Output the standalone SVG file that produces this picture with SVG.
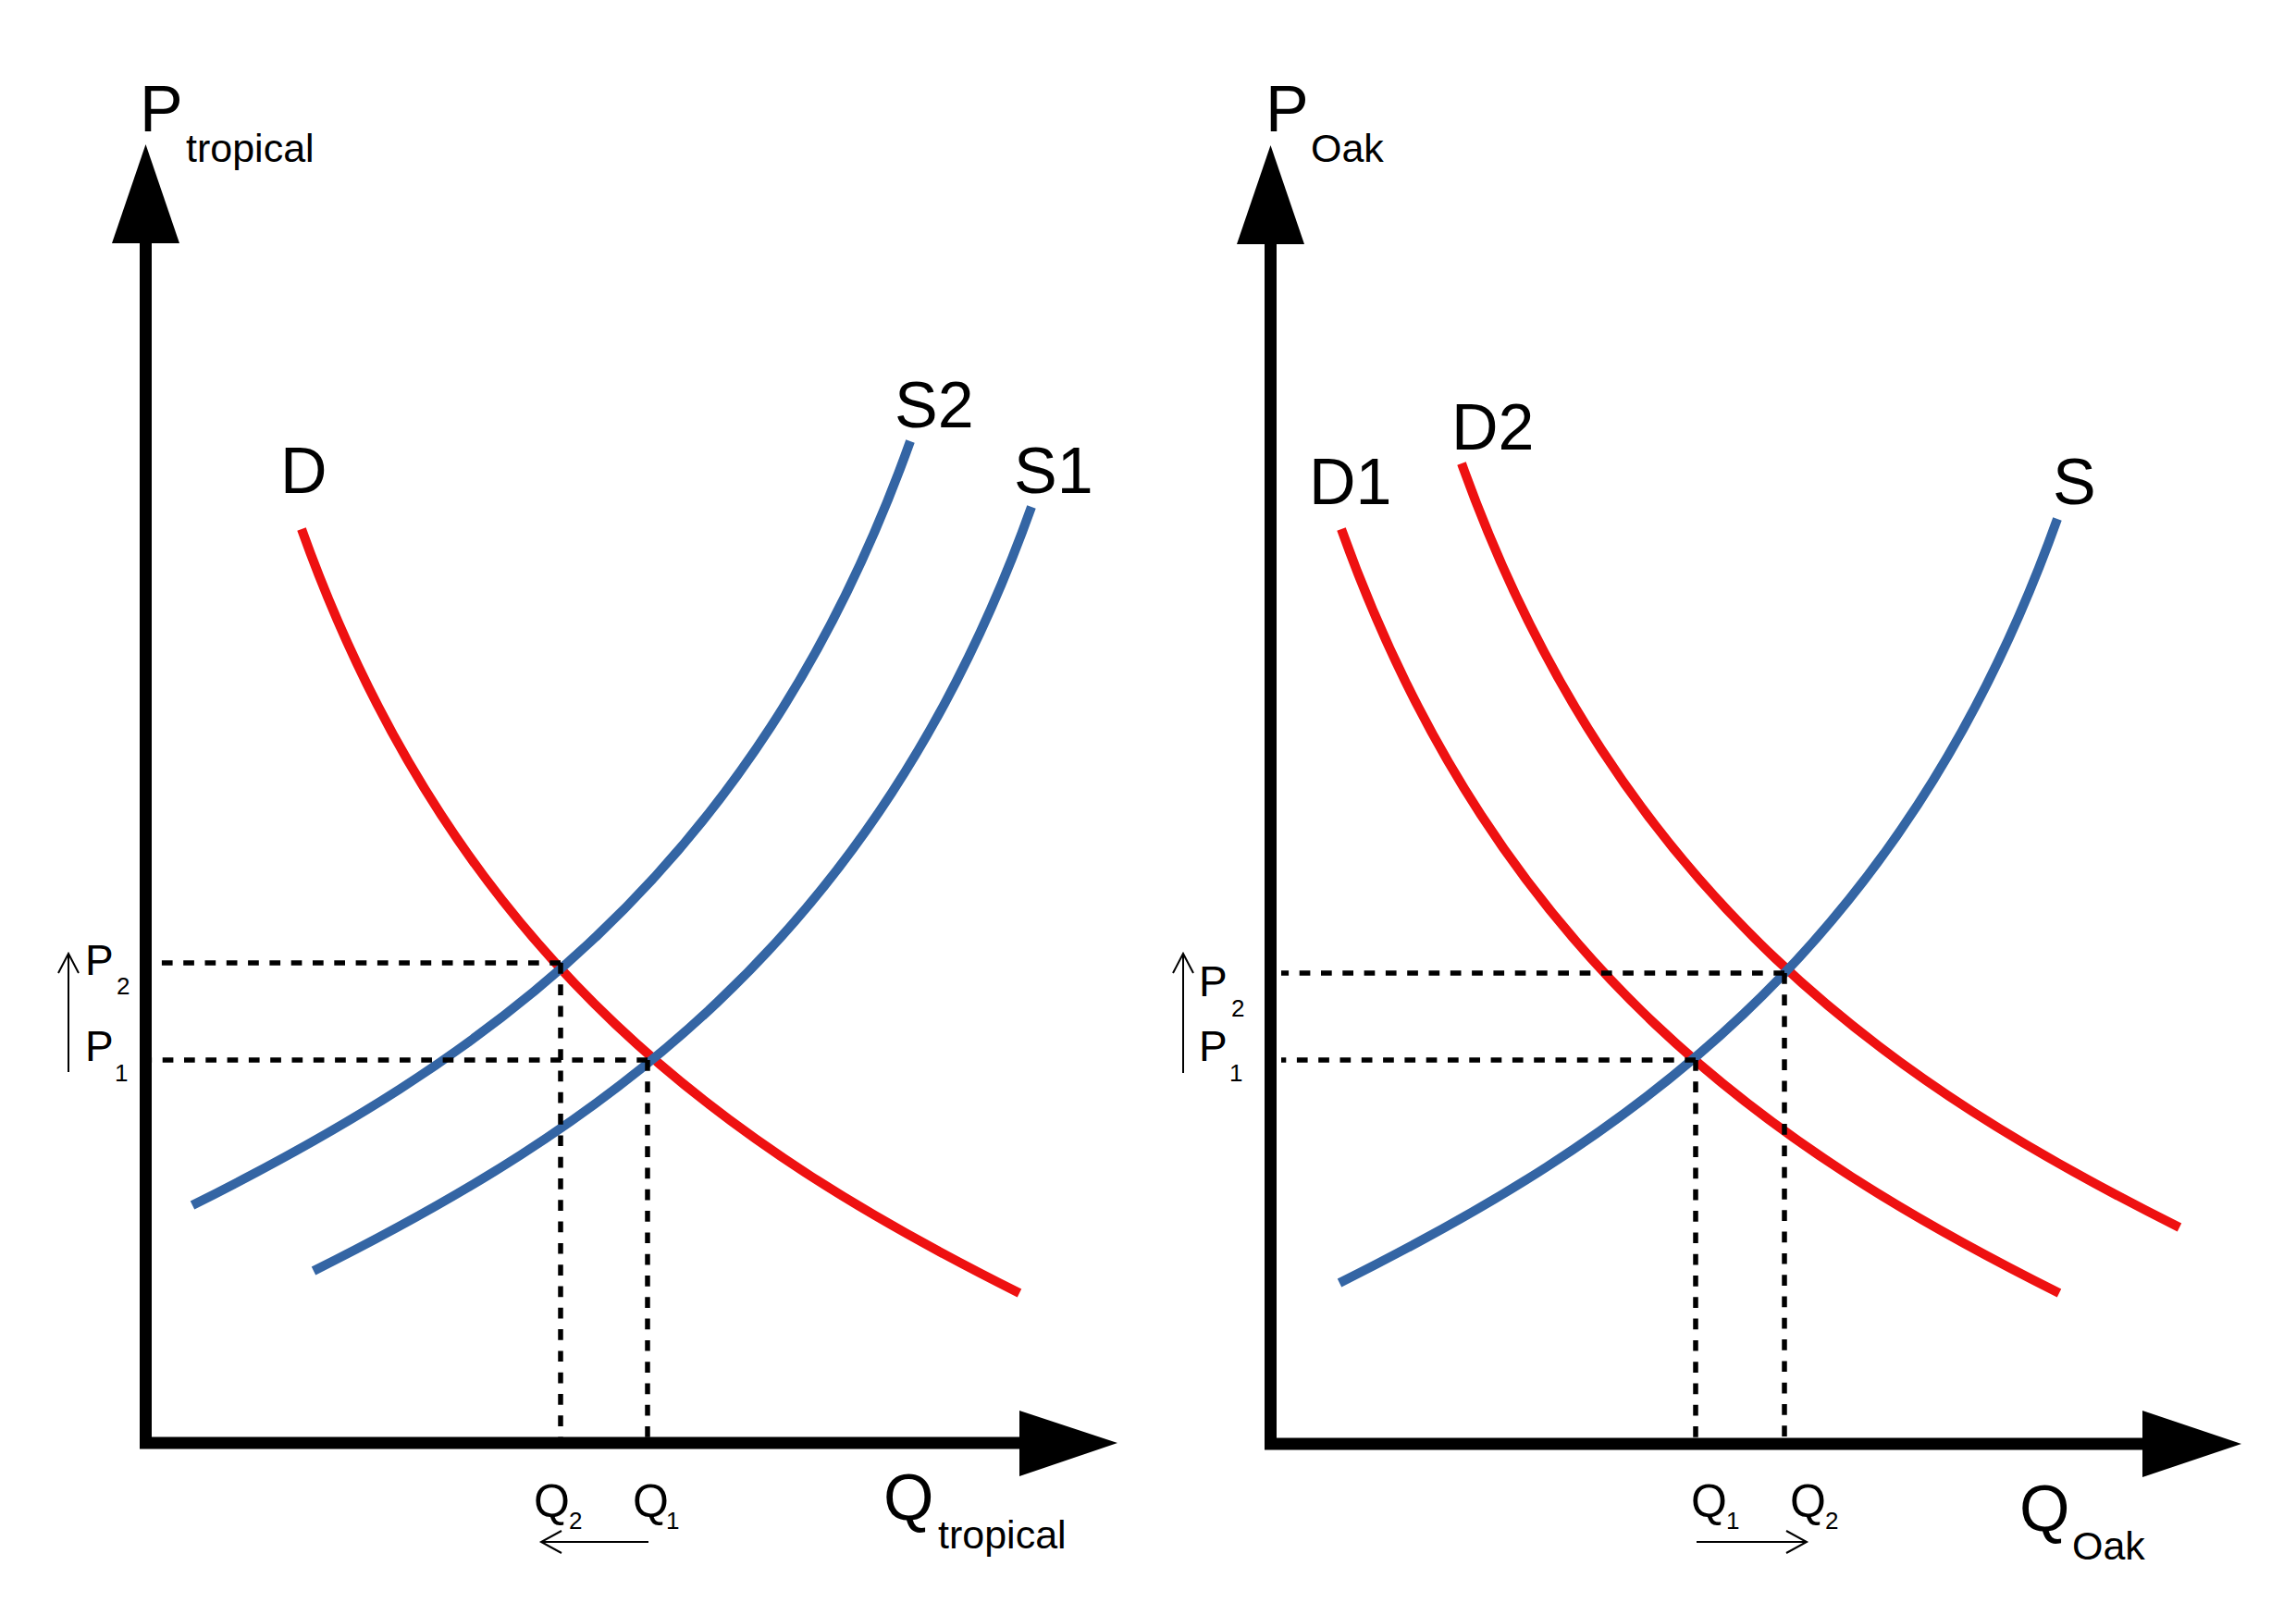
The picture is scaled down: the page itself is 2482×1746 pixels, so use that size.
<svg xmlns="http://www.w3.org/2000/svg" width="2482" height="1746" viewBox="0 0 2482 1746">
<style>
.ax{stroke:#000;stroke-width:13;fill:none}
.head{fill:#000;stroke:none}
.dem{stroke:#EE1111;stroke-width:10;fill:none}
.sup{stroke:#3465A4;stroke-width:10;fill:none}
.dash{stroke:#000;stroke-width:5.5;stroke-dasharray:11.7 11.6;fill:none}
.thin{stroke:#000;stroke-width:2;fill:none}
text{font-family:"Liberation Sans",Arial,sans-serif;fill:#000}
.big{font-size:70px}
.sub{font-size:43px}
.pl{font-size:46px}
.ql{font-size:50px}
.ss{font-size:26px}
</style>
<rect width="2482" height="1746" fill="#fff"/>
<g id="left-chart">
  <g id="curves-left">
    <path id="D" class="dem" d="M326,572 C496,1048 802,1248 1102,1398"/>
    <path id="S2" class="sup" d="M208,1303 C508,1153 814,953 984,477"/>
    <path id="S1" class="sup" d="M339,1374 C639,1224 945,1024 1115,548"/>
  </g>
  <g id="connectors-left">
    <path class="dash" d="M606,1041 H159"/>
    <path class="dash" d="M606,1041 V1560"/>
    <path class="dash" d="M700,1146 H159"/>
    <path class="dash" d="M700,1146 V1560"/>
    <path class="thin" d="M74,1159 V1031 M63,1052 L74,1031 L85,1052"/>
    <path class="thin" d="M701,1667 H585 M607,1655 L585,1667 L607,1679"/>
  </g>
  <g id="axes-left">
    <path class="ax" d="M157.5,263 V1566"/>
    <path class="ax" d="M151,1560 H1104"/>
    <polygon class="head" points="121,263 194,263 157.5,156"/>
    <polygon class="head" points="1102,1525 1102,1596 1208,1560"/>
  </g>
  <g id="labels-left">
    <text class="big" x="151" y="142">P</text>
    <text class="sub" x="201" y="175">tropical</text>
    <text class="big" x="955" y="1643">Q</text>
    <text class="sub" x="1014" y="1674">tropical</text>
    <text class="big" x="303" y="533">D</text>
    <text class="big" x="967" y="462">S2</text>
    <text class="big" x="1096" y="533">S1</text>
    <text class="pl" x="92" y="1054">P</text>
    <text class="ss" x="126" y="1075">2</text>
    <text class="pl" x="92" y="1147">P</text>
    <text class="ss" x="124" y="1169">1</text>
    <text class="ql" x="577" y="1640">Q</text>
    <text class="ss" x="615" y="1653">2</text>
    <text class="ql" x="684" y="1640">Q</text>
    <text class="ss" x="720" y="1653">1</text>
  </g>
</g>
<g id="right-chart">
  <g id="curves-right">
    <path id="D1" class="dem" d="M1450,572 C1620,1048 1926,1248 2226,1398"/>
    <path id="D2" class="dem" d="M1580,501 C1750,977 2056,1177 2356,1327"/>
    <path id="S" class="sup" d="M1448,1387 C1748,1237 2054,1037 2224,561"/>
  </g>
  <g id="connectors-right">
    <path class="dash" d="M1929,1052 H1385"/>
    <path class="dash" d="M1929,1052 V1561"/>
    <path class="dash" d="M1833,1146 H1385"/>
    <path class="dash" d="M1833,1146 V1561"/>
    <path class="thin" d="M1279,1160 V1031 M1268,1052 L1279,1031 L1290,1052"/>
    <path class="thin" d="M1834,1667 H1953 M1931,1655 L1953,1667 L1931,1679"/>
  </g>
  <g id="axes-right">
    <path class="ax" d="M1373.5,264 V1567"/>
    <path class="ax" d="M1367,1561 H2318"/>
    <polygon class="head" points="1337,264 1410,264 1373.5,157"/>
    <polygon class="head" points="2316,1525 2316,1597 2423,1561"/>
  </g>
  <g id="labels-right">
    <text class="big" x="1368" y="142">P</text>
    <text class="sub" x="1417" y="175">Oak</text>
    <text class="big" x="2183" y="1655">Q</text>
    <text class="sub" x="2240" y="1686">Oak</text>
    <text class="big" x="1415" y="545">D1</text>
    <text class="big" x="1569" y="486">D2</text>
    <text class="big" x="2219" y="545">S</text>
    <text class="pl" x="1296" y="1077">P</text>
    <text class="ss" x="1331" y="1099">2</text>
    <text class="pl" x="1296" y="1147">P</text>
    <text class="ss" x="1329" y="1169">1</text>
    <text class="ql" x="1828" y="1640">Q</text>
    <text class="ss" x="1866" y="1653">1</text>
    <text class="ql" x="1935" y="1640">Q</text>
    <text class="ss" x="1973" y="1653">2</text>
  </g>
</g>
</svg>
